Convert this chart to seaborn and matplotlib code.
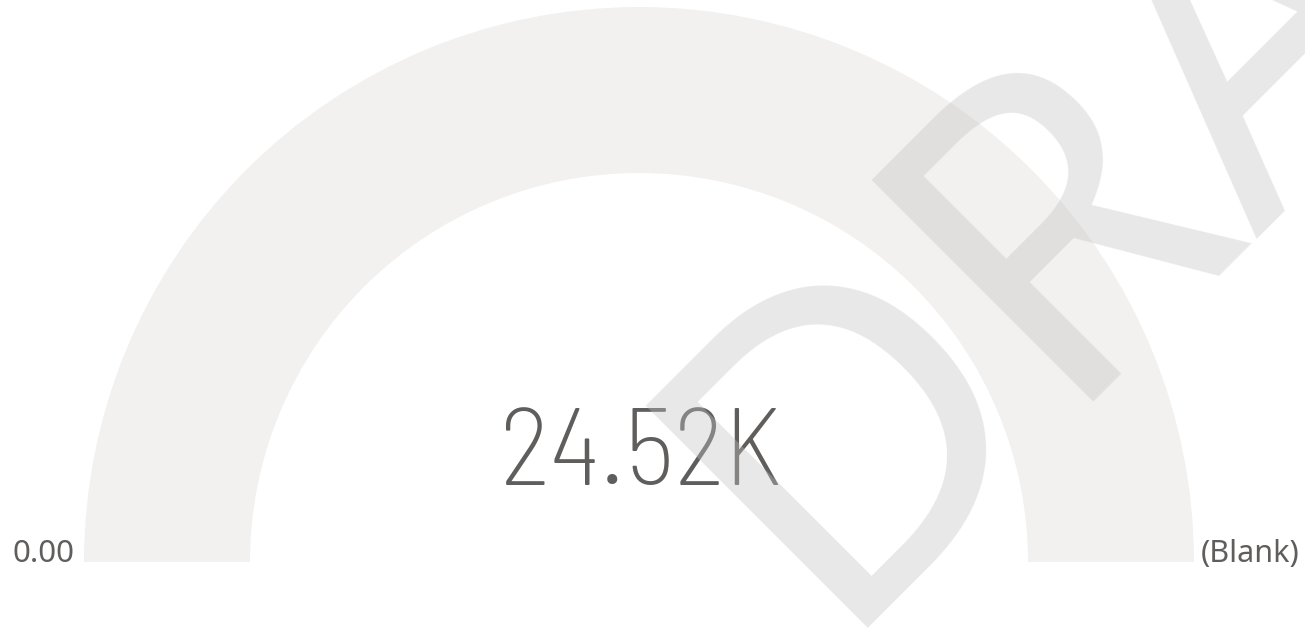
import os
import matplotlib
matplotlib.use("Agg")
import matplotlib.pyplot as plt
from matplotlib import font_manager as fm
from matplotlib.patches import Wedge
import seaborn as sns

# gauge values
gauge_min = 0.0
gauge_value = 24520
gauge_max_label = "(Blank)"
watermark = "DRAFT"

sns.set_theme(style="white")
plt.rcParams["font.family"] = ["Noto Sans", "DejaVu Sans"]


def pick_font(*names):
    files = {os.path.basename(f.fname).lower(): f.fname for f in fm.fontManager.ttflist}
    for n in names:
        if n.lower() in files:
            return fm.FontProperties(fname=files[n.lower()])
    return fm.FontProperties(family="DejaVu Sans")


# DIN-like light face for the callout
callout_font = pick_font("BarlowSemiCondensed-ExtraLight.ttf", "BarlowSemiCondensed-Light.ttf",
                         "BarlowCondensed-ExtraLight.ttf", "BarlowCondensed-Light.ttf",
                         "RobotoCondensed-Light.ttf", "LiberationSansNarrow-Regular.ttf")

fig = plt.figure(figsize=(13.05, 6.28), dpi=100)
ax = fig.add_axes([0, 0, 1, 1])
ax.set_xlim(0, 1305)
ax.set_ylim(628, 0)
ax.axis("off")

# background arc (max is blank, so no filled part)
cx, cy, r_out, r_in = 639, 562, 555, 389
ax.add_patch(Wedge((cx, cy), r_out, 180, 360, width=r_out - r_in,
                   facecolor="#F2F1F0", edgecolor="none"))

ax.text(640, 485, f"{gauge_value / 1000:.2f}K", fontproperties=callout_font,
        fontsize=79, color="#605E5C", ha="center", va="baseline")
ax.text(13, 562, f"{gauge_min:.2f}", fontsize=22.5, color="#605E5C",
        ha="left", va="baseline")
ax.text(1299, 562, gauge_max_label, fontsize=22, color="#605E5C",
        ha="right", va="baseline")

# draft watermark on top
ax.text(825, 628, watermark, fontsize=316, color="#C3C3C3", alpha=0.385,
        rotation=45, rotation_mode="anchor", ha="left", va="baseline", zorder=10)

fig.savefig("out.png", dpi=100)
